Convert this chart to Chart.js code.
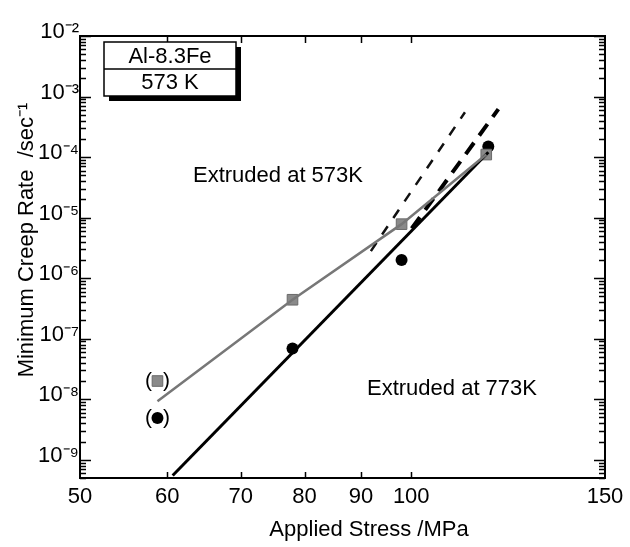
<!DOCTYPE html>
<html>
<head>
<meta charset="utf-8">
<script src="https://cdn.jsdelivr.net/npm/chart.js@4.4.1/dist/chart.umd.min.js"></script>
<style>
  html, body { margin: 0; padding: 0; background: #fff; }
  #wrap { width: 630px; height: 547px; }
</style>
</head>
<body>
<div id="wrap"><canvas id="myChart"></canvas></div>
<script>
const FONT = '"Liberation Sans", Arial, Helvetica, sans-serif';

// applied stress (MPa) and minimum creep rate (1/s)
const stress573 = [78, 98, 117];
const rate573 = [4.4e-7, 7.8e-6, 1.1e-4];
const stress773 = [78, 98, 117.5];
const rate773 = [6.9e-8, 2.0e-6, 1.5e-4];

// bracketed points at the lowest stress
const stressLow = [58.8];
const rateLow573 = [2.0e-8];
const rateLow773 = [4.9e-9];

// drawn lines
const fit573X = [58.8, 78, 98, 117];
const fit573Y = [9.3e-9, 4.4e-7, 7.8e-6, 1.1e-4];
const fit773X = [60.7, 117.5];
const fit773Y = [5.5e-10, 1.2e-4];
const dashAX = [91.9, 111.9];
const dashAY = [2.8e-6, 5.5e-4];
const dashBX = [100.1, 120];
const dashBY = [6.6e-6, 6.2e-4];

const xTicks = [50, 60, 70, 80, 90, 100, 150];
const yTicks = [1e-9, 1e-8, 1e-7, 1e-6, 1e-5, 1e-4, 1e-3, 1e-2];

const SUP = {'-': '\u207B', '0': '\u2070', '1': '\u00B9', '2': '\u00B2', '3': '\u00B3',
  '4': '\u2074', '5': '\u2075', '6': '\u2076', '7': '\u2077', '8': '\u2078', '9': '\u2079'};
function pow10Label(v) {
  const e = String(Math.round(Math.log10(v)));
  return '10' + e.split('').map(c => SUP[c]).join('');
}

const toPts = (xs, ys) => xs.map((v, i) => ({x: v, y: ys[i]}));

// box frame with inward ticks on all four sides
const frame = {
  id: 'frame',
  afterDatasetsDraw(chart) {
    const {ctx, chartArea: a, scales: {x, y}} = chart;
    ctx.save();
    ctx.strokeStyle = '#000';
    ctx.lineWidth = 2;
    ctx.strokeRect(a.left, a.top, a.right - a.left, a.bottom - a.top);
    ctx.lineWidth = 1.5;
    ctx.beginPath();
    for (let e = -10; e <= -2; e++) {
      for (let m = 1; m <= 9; m++) {
        const v = m * Math.pow(10, e);
        if (v < y.min || v > y.max * 1.0001) continue;
        const py = Math.round(y.getPixelForValue(v)) + 0.5;
        const len = m === 1 ? 11 : 6;
        ctx.moveTo(a.left, py); ctx.lineTo(a.left + len, py);
        ctx.moveTo(a.right, py); ctx.lineTo(a.right - len, py);
      }
    }
    xTicks.slice(1, -1).forEach(v => {
      const px = Math.round(x.getPixelForValue(v)) + 0.5;
      ctx.moveTo(px, a.bottom); ctx.lineTo(px, a.bottom - 6);
      ctx.moveTo(px, a.top); ctx.lineTo(px, a.top + 7);
    });
    ctx.stroke();
    ctx.restore();
  }
};

// labels, axis titles, alloy box and brackets
const notes = {
  id: 'notes',
  afterDraw(chart) {
    const {ctx, chartArea: a, scales: {x, y}} = chart;
    ctx.save();
    ctx.fillStyle = '#000';
    ctx.strokeStyle = '#000';
    ctx.textAlign = 'center';
    ctx.textBaseline = 'middle';

    // alloy box with drop shadow
    const bx = a.left + 24, by = a.top + 6, bw = 132, bh = 54;
    ctx.fillRect(bx + 5, by + 5, bw, bh);
    ctx.fillStyle = '#fff';
    ctx.fillRect(bx, by, bw, bh);
    ctx.lineWidth = 1.5;
    ctx.strokeRect(bx, by, bw, bh);
    ctx.beginPath();
    ctx.moveTo(bx, by + 27); ctx.lineTo(bx + bw, by + 27);
    ctx.stroke();
    ctx.fillStyle = '#000';
    ctx.font = '22px ' + FONT;
    ctx.fillText('Al-8.3Fe', bx + bw / 2, by + 15);
    ctx.fillText('573 K', bx + bw / 2, by + 41);

    ctx.fillText('Extruded at 573K', a.left + 198, a.top + 140);
    ctx.fillText('Extruded at 773K', a.left + 372, a.top + 353);

    // axis titles
    ctx.fillText('Applied Stress /MPa', 369, 530);
    ctx.save();
    ctx.translate(27, 240);
    ctx.rotate(-Math.PI / 2);
    ctx.fillText('Minimum Creep Rate  /sec\u207B\u00B9', 0, 0);
    ctx.restore();

    // brackets round the doubtful points
    ctx.font = '21px ' + FONT;
    [rateLow573[0], rateLow773[0]].forEach(r => {
      const px = x.getPixelForValue(stressLow[0]);
      const py = y.getPixelForValue(r);
      ctx.fillText('(', px - 9, py);
      ctx.fillText(')', px + 9, py);
    });
    ctx.restore();
  }
};

new Chart(document.getElementById('myChart'), {
  type: 'scatter',
  data: {
    datasets: [
      {data: toPts(fit573X, fit573Y), showLine: true, borderColor: '#777', borderWidth: 2.5, pointRadius: 0},
      {data: toPts(fit773X, fit773Y), showLine: true, borderColor: '#000', borderWidth: 3, pointRadius: 0},
      {data: toPts(dashAX, dashAY), showLine: true, borderColor: '#111', borderWidth: 2.5, borderDash: [10, 10], pointRadius: 0},
      {data: toPts(dashBX, dashBY), showLine: true, borderColor: '#000', borderWidth: 4, borderDash: [14, 9], pointRadius: 0},
      {data: toPts(stress573.concat(stressLow), rate573.concat(rateLow573)), pointStyle: 'rect', pointRadius: 7.5,
        backgroundColor: '#8a8a8a', borderColor: '#6a6a6a', borderWidth: 1},
      {data: toPts(stress773.concat(stressLow), rate773.concat(rateLow773)), pointStyle: 'circle', pointRadius: 6,
        backgroundColor: '#000', borderColor: '#000', borderWidth: 0}
    ]
  },
  options: {
    responsive: true,
    maintainAspectRatio: false,
    animation: false,
    layout: {padding: {left: 0, top: 36, right: 25, bottom: 0}},
    plugins: {legend: {display: false}, tooltip: {enabled: false}},
    scales: {
      x: {
        type: 'logarithmic',
        position: 'bottom',
        min: 50,
        max: 150,
        afterBuildTicks: s => { s.ticks = xTicks.map(v => ({value: v})); },
        afterFit: s => { s.height = 69; },
        grid: {display: false, drawTicks: false},
        border: {display: false},
        ticks: {callback: v => String(v), font: {family: FONT, size: 22}, color: '#000',
          padding: 6, maxRotation: 0, autoSkip: false}
      },
      y: {
        type: 'logarithmic',
        min: 5e-10,
        max: 1e-2,
        afterBuildTicks: s => { s.ticks = yTicks.map(v => ({value: v})); },
        afterFit: s => { s.width = 80; },
        grid: {display: false, drawTicks: false},
        border: {display: false},
        ticks: {callback: v => pow10Label(v), font: {family: FONT, size: 22}, color: '#000',
          padding: 1, labelOffset: -4, autoSkip: false}
      }
    }
  },
  plugins: [frame, notes]
});
</script>
</body>
</html>
